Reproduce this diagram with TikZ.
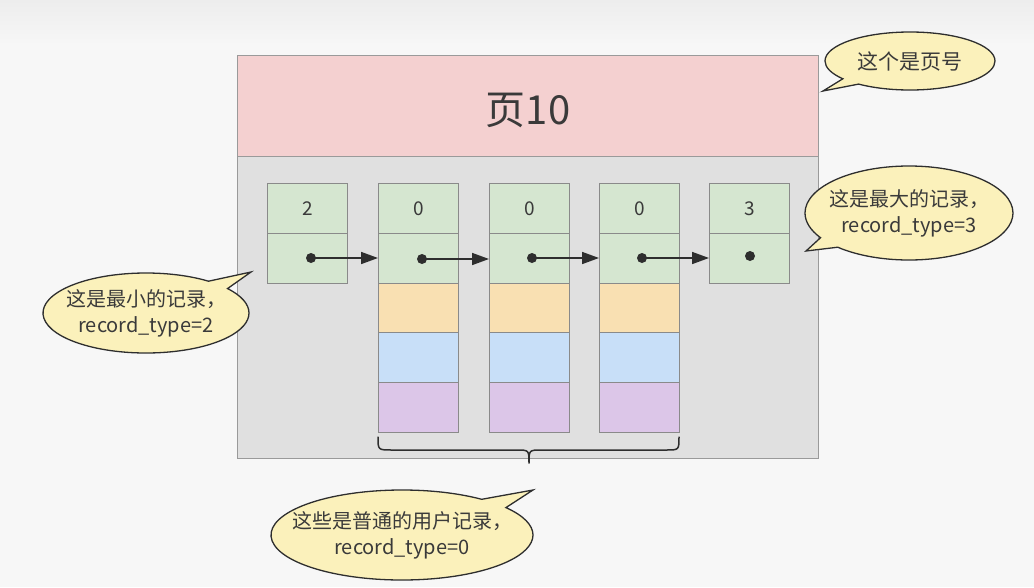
\documentclass[tikz,border=0pt]{standalone}
\usepackage{fontspec}
\setmainfont{Noto Sans CJK SC}
\usetikzlibrary{shapes.callouts,arrows.meta}
\definecolor{bgc}{HTML}{F7F7F7}
\definecolor{bgtop}{HTML}{EDEDED}
\definecolor{pinkc}{HTML}{F4D0D0}
\definecolor{grayc}{HTML}{E0E0E0}
\definecolor{framec}{HTML}{9A9A9A}
\definecolor{greenc}{HTML}{D5E6D0}
\definecolor{orangec}{HTML}{F9E0B2}
\definecolor{bluec}{HTML}{C8DFF8}
\definecolor{purplec}{HTML}{DCC6E8}
\definecolor{cellline}{HTML}{8A8A8A}
\definecolor{textc}{HTML}{3A3A3A}
\definecolor{yellowc}{HTML}{FBF1BB}
\definecolor{darkc}{HTML}{2E2E2E}
\tikzset{
  cell/.style={draw=cellline, line width=0.9pt, minimum width=80pt, minimum height=50pt, inner sep=0pt, anchor=north west, text=textc, font=\fontsize{19}{22}\selectfont},
  gcell/.style={cell, fill=greenc},
  ocell/.style={cell, fill=orangec},
  bcell/.style={cell, fill=bluec},
  pcell/.style={cell, fill=purplec},
  dotmark/.style={circle, fill=darkc, inner sep=0pt, minimum size=10pt},
  link/.style={draw=darkc, line width=1.7pt, -{Triangle[length=17pt,width=12pt]}},
  bubble/.style={ellipse callout, draw=darkc, line width=1.3pt, fill=yellowc, inner xsep=-45pt, inner ysep=-12pt, align=center, text=textc, font=\fontsize{20}{26}\selectfont},
}
\begin{document}
\begin{tikzpicture}[x=1pt,y=-1pt]
\useasboundingbox (0,0) rectangle (1034,587);
\fill[bgc] (0,0) rectangle (1034,587);
\shade[top color=bgtop, bottom color=bgc] (0,0) rectangle (1034,45);
% page
\node[draw=framec, fill=grayc, line width=1pt, minimum width=581pt, minimum height=302pt, inner sep=0pt, anchor=north west] (body) at (237,156) {};
\node[draw=framec, fill=pinkc, line width=1pt, minimum width=581pt, minimum height=101pt, inner sep=0pt, anchor=north west] (head) at (237,55) {};
\node[text=textc, font=\fontsize{40}{46}\selectfont, inner sep=0pt] (headtxt) at (528,110) {页10};
% infimum
\node[gcell] (a1) at (267,183) {2};
\node[gcell] (a2) at (267,233) {};
% user records
\foreach \n/\x in {b/378,c/489,d/599}{
  \node[gcell] (\n1) at (\x,183) {0};
  \node[gcell] (\n2) at (\x,233) {};
  \node[ocell] (\n3) at (\x,283) {};
  \node[bcell] (\n4) at (\x,332) {};
  \node[pcell] (\n5) at (\x,382) {};
}
% supremum
\node[gcell] (e1) at (709,183) {3};
\node[gcell] (e2) at (709,233) {};
% dots
\node[dotmark] (da) at (311,258) {};
\node[dotmark] (db) at (422,259) {};
\node[dotmark] (dc) at (532,258) {};
\node[dotmark] (dd) at (642,258) {};
\node[dotmark] (de) at (750,256) {};
\draw[link] (da.center) -- (b2.west |- da);
\draw[link] (db.center) -- (c2.west |- db);
\draw[link] (dc.center) -- (d2.west |- dc);
\draw[link] (dd.center) -- (e2.west |- dd);
% brace
\draw[darkc, line width=1.5pt, line cap=round, line join=round]
  (378,437) .. controls (378,450) .. (392,450) -- (516,450) .. controls (529,450) .. (529,463)
  .. controls (529,450) .. (542,450) -- (666,450) .. controls (679,450) .. (679,437);
% callouts
\coordinate (p1) at (823,91);
\coordinate (p2) at (806,251);
\coordinate (p3) at (251,272);
\coordinate (p4) at (533,490);
\node[bubble, font=\fontsize{21}{26}\selectfont, minimum width=170pt, minimum height=58pt, callout absolute pointer={(p1)}] (c1) at (910,61) {这个是页号};
\node[bubble, minimum width=208pt, minimum height=94pt, callout absolute pointer={(p2)}] (c2) at (909,213) {这是最大的记录，\\record\_type=3};
\node[bubble, minimum width=206pt, minimum height=80pt, callout absolute pointer={(p3)}] (c3) at (146,313) {这是最小的记录，\\record\_type=2};
\node[bubble, minimum width=262pt, minimum height=90pt, callout absolute pointer={(p4)}] (c4) at (402,535) {这些是普通的用户记录，\\record\_type=0};
\end{tikzpicture}
\end{document}
